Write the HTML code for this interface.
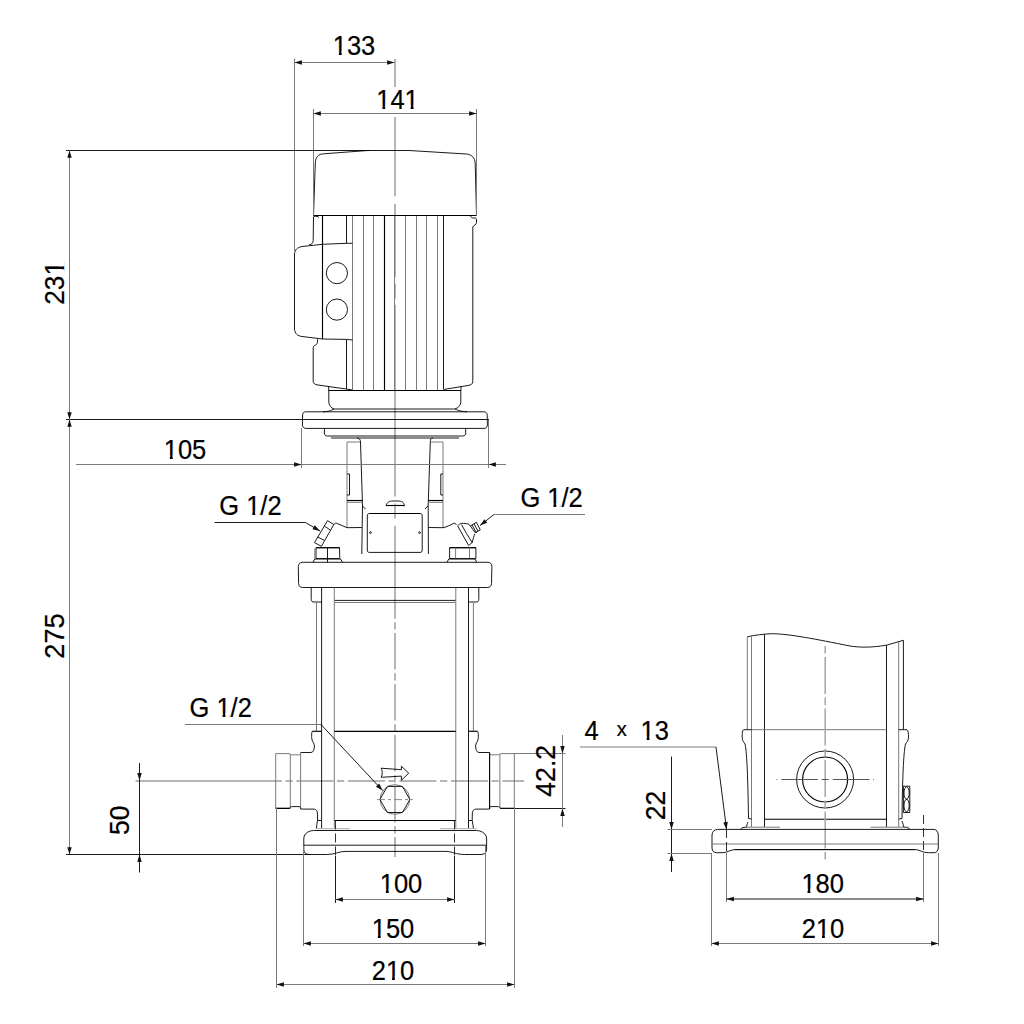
<!DOCTYPE html>
<html><head><meta charset="utf-8"><style>
html,body{margin:0;padding:0;background:#fff;width:1024px;height:1024px;overflow:hidden}
svg{position:absolute;left:0;top:0}
.g{stroke:#7a7a7a;stroke-width:1;fill:none}
.k{stroke:#000;stroke-width:0.9;fill:none}
.kk{stroke:#000;stroke-width:1.15;fill:none}
.lg{stroke:#aaa;stroke-width:1;fill:none}
.c{stroke:#999;stroke-width:1.2;fill:none;stroke-dasharray:37 3.7 7.3 3.7}
.c3{stroke:#333;stroke-width:1;fill:none;stroke-dasharray:9 4}
.c0{stroke:#b5b5b5;stroke-width:2;fill:none}
.cd{stroke:#b5b5b5;stroke-width:2;fill:none}
.cd1{stroke:#a5a5a5;stroke-width:1.5;fill:none}
.cd2{stroke:#555;stroke-width:1;fill:none}
.c2{stroke:#888;stroke-width:1;fill:none;stroke-dasharray:8 3 3 3}
.ar{fill:#111;stroke:none}
.t{font-family:"Liberation Sans",sans-serif;font-kerning:none;fill:#000;stroke:#000;stroke-width:0.2}
.er{fill:#fff;stroke:none}
</style></head><body>
<svg width="1024" height="1024" viewBox="0 0 1024 1024">
<line x1="395" y1="59" x2="395" y2="87" class="c0"/>
<line x1="395" y1="117" x2="395" y2="196.3" class="c0"/>
<line x1="395" y1="204" x2="395" y2="276.9" class="c0"/>
<line x1="395" y1="283.7" x2="395" y2="298.4" class="c0"/>
<line x1="395" y1="305" x2="395" y2="496.4" class="c0"/>
<line x1="395" y1="503.4" x2="395" y2="518.4" class="c0"/>
<line x1="395" y1="525.7" x2="395" y2="618.7" class="c0"/>
<line x1="395" y1="622.2" x2="395" y2="857" class="cd" style="stroke-dasharray:7.3 3.6 36.5 3.6"/>
<line x1="135.5" y1="781" x2="282" y2="781" class="c0"/>
<line x1="285.5" y1="781" x2="524" y2="781" class="cd" style="stroke-dasharray:7.3 3.6 37 3.6"/>
<path d="M313.5,215.5 L315.3,163 C315.6,156.5 318.5,154.3 323.5,153.8 L368,150.5 L409,150.5 L466.5,154 C471.5,154.5 474.8,157.5 475.2,163 L476.5,215.5" class="k"/>
<line x1="313.5" y1="215.5" x2="476.5" y2="215.5" class="kk"/>
<line x1="352.5" y1="216" x2="352.5" y2="390" class="g"/>
<line x1="363.5" y1="216" x2="363.5" y2="390" class="g"/>
<line x1="373.5" y1="216" x2="373.5" y2="390" class="g"/>
<line x1="405.5" y1="216" x2="405.5" y2="390" class="g"/>
<line x1="416.5" y1="216" x2="416.5" y2="390" class="g"/>
<line x1="426.5" y1="216" x2="426.5" y2="390" class="g"/>
<line x1="437.5" y1="216" x2="437.5" y2="390" class="g"/>
<line x1="394.5" y1="216" x2="394.5" y2="390" class="g"/>
<line x1="322.5" y1="216" x2="322.5" y2="339" class="kk"/>
<line x1="384.5" y1="216" x2="384.5" y2="390" class="kk"/>
<line x1="443.5" y1="216" x2="443.5" y2="389" class="k"/>
<line x1="346.5" y1="216" x2="346.5" y2="243.5" class="k"/>
<line x1="346.5" y1="339.5" x2="346.5" y2="389" class="k"/>
<path d="M313.5,216.5 C316,216 318.5,216.5 319,217.5 M313.5,217 L313.2,240.5 C313,243 312,244.5 309,245" class="k"/>
<path d="M352.5,243.3 L346.5,243.3 L322.5,244.3 L302,246.5 C297,247.5 294.8,250 294.5,254 L294.5,329 C294.8,333.5 297.5,336 302,336.5 L322.5,339 L346.5,339.4 L352.5,340" class="k"/>
<circle cx="336.9" cy="273.1" r="10.6" class="k"/>
<circle cx="336.9" cy="309.6" r="10.6" class="k"/>
<path d="M317.5,339.2 L317.4,342.5 C317.2,344.5 315.5,345 314.5,345.5 C313.5,346 313.2,347 313.2,349 L313.2,381.5 C313.3,383.5 315,384.7 318,385 L346,389 L352.5,390" class="k"/>
<path d="M470.5,216 C471,217.5 472,218 473.5,218 L475.5,218 C476.3,218.3 476.5,219 476.5,220 L476.5,222.5 C476.4,223.5 476,224 475,225 L473.5,226 C473,226.5 472.8,227 472.8,228 L472.8,381.5 C472.7,384 471,385 468,385.5 L443.5,389.5" class="k"/>
<line x1="461" y1="386" x2="461" y2="390.5" class="k"/>
<line x1="328.7" y1="386" x2="328.7" y2="390.5" class="k"/>
<line x1="328.5" y1="390.5" x2="461" y2="390.5" class="kk"/>
<path d="M328.8,390.5 L328.8,402.5 C329.2,405.5 331,408 334,409 L455,409 C458,408 460.6,405.5 460.8,402.5 L460.8,390.5" class="k"/>
<path d="M334,409 C331,410.5 329,411.5 323,411.8 L305.5,411.8 C303.5,412 302.8,413 302.6,415 L302.4,425 C302.6,427 303.5,428.3 306,428.4 L484,428.4 C486.5,428.3 487.3,427 487.4,425 L487.2,415 C487,413 486.3,412 484,411.8 L467,411.8 C461,411.5 458.5,410.5 455,409" class="k"/>
<line x1="323" y1="411.8" x2="467" y2="411.8" class="k"/>
<path d="M324.5,428.5 L324.3,433 C324.3,435 325.5,436 327.5,436 L462.5,436 C464.5,436 465.8,435 465.8,433 L465.6,428.5" class="k"/>
<line x1="331" y1="438" x2="459" y2="438" class="k"/>
<path d="M357,438 C359.5,438.2 360.4,439.5 360.5,442 L362.5,505 L361.8,554" class="k"/>
<path d="M433,438 C430.5,438.2 430.4,439.5 430.3,442 L428.2,505 L428.4,554" class="k"/>
<path d="M360,442 L347,442 L347,527.7 M430.5,442 L443,442 L443,527.7" class="g"/>
<path d="M347,474 L349.5,474 L349.5,495 L347,495 M443,474 L440.8,474 L440.8,495 L443,495" class="k"/>
<line x1="347" y1="500.5" x2="362.5" y2="500.5" class="kk"/>
<line x1="347" y1="502.3" x2="362.5" y2="502.3" class="g"/>
<line x1="428" y1="500.5" x2="443" y2="500.5" class="kk"/>
<line x1="428" y1="502.3" x2="443" y2="502.3" class="g"/>
<path d="M362.5,506 L365.5,509 M428,506 L425,509" class="k"/>
<path d="M386,505.5 C387.5,502 389,501 393,501 L398,501 C402,501 403.5,502 404.5,505.5 Z" class="k"/>
<line x1="386" y1="505.5" x2="404.5" y2="505.5" class="kk"/>
<path d="M369.5,513.5 L420,513.5 C421.5,513.5 422.2,514.3 422.2,516 L422.2,550 C422.2,551.8 421.5,552.4 420,552.4 L369.5,552.4 C368,552.4 367.3,551.8 367.3,550 L367.3,516 C367.3,514.3 368,513.5 369.5,513.5 Z" class="k"/>
<line x1="369.5" y1="513.5" x2="420" y2="513.5" class="kk"/>
<circle cx="370.5" cy="532.6" r="0.9" class="k"/><circle cx="419.5" cy="532.6" r="0.9" class="k"/>
<path d="M334,524.5 C334.5,523.5 335.5,523 336.5,523.2 L347,527.7 L361.8,527.5" class="k"/>
<path d="M428.3,527.5 L443,527.7 C447,527 450,525 453.9,523.3 C455,523 455.8,523.8 456.5,525" class="k"/>
<path d="M327.5,520.7 L333.8,524.5 L321.4,546.3 L314.5,542.6 Z M324.3,526 L330.4,530.1 M317.7,537 L324.3,540.4" class="k"/>
<path d="M457.6,525.8 L468.6,545.5 L472.2,542.6 C473,539 474,536 474.9,533.8 M457.6,525.8 C459,524.5 460,523.5 461.5,523.4 C464,523.3 467,523.5 468.8,524.3 L470.3,526 M461.5,524.5 L466.4,533.3 L472.2,542.6" class="k"/>
<path d="M470.3,526 L476.4,522.3 L480.3,529.9 L475.2,532.6 Z M472,525 L476.5,533 M474,524 L478,531" class="k"/>
<path d="M316,558.6 L316,547.7 L339.5,547.7 L339.8,558.6 Z M327.5,547.7 L327.5,558.6" class="k"/>
<line x1="316" y1="547.7" x2="339.5" y2="547.7" class="kk"/>
<line x1="314.8" y1="548.5" x2="314.8" y2="558.6" class="g"/>
<path d="M313,562.2 L314.8,559 L340.5,559 L342.6,562.2 M327.5,558.6 L327.5,562.2" class="k"/>
<path d="M449.6,547.7 L475.9,547.7 L475.9,558.6 L449.6,558.6 Z" class="k"/>
<line x1="449.6" y1="547.7" x2="475.9" y2="547.7" class="kk"/>
<path d="M455.6,547.7 L455.6,558.6 M469.5,547.7 L469.5,558.6" class="g"/>
<path d="M447,562.2 L448.8,559 L475,559 L476.7,562.2" class="k"/>
<path d="M302.5,562.3 L488,562.3 C490.5,562.5 491.8,564 491.9,566.5 L491.5,583.5 C491.3,586 490,587.4 487.5,587.5 L302.5,587.5 C300,587.4 298.8,586 298.6,583.5 L298.3,566.5 C298.4,564 299.8,562.5 302.5,562.3 Z" class="k"/>
<path d="M311.2,587.5 L311.2,599.5 C311.3,601.5 312.3,602 314,602 L322,602 M478.8,587.5 L478.8,599.5 C478.7,601.5 477.7,602 476,602 L468.7,602" class="k"/>
<line x1="334.3" y1="600.4" x2="455.8" y2="600.4" class="k"/>
<line x1="334.3" y1="602.5" x2="455.8" y2="602.5" class="g"/>
<line x1="316.5" y1="602" x2="316.5" y2="731" class="g"/>
<line x1="321.6" y1="587.5" x2="321.6" y2="828.5" class="k"/>
<line x1="334.3" y1="587.5" x2="334.3" y2="828.5" class="g"/>
<line x1="455.8" y1="587.5" x2="455.8" y2="828.5" class="g"/>
<line x1="468.5" y1="587.5" x2="468.5" y2="828.5" class="k"/>
<line x1="473.4" y1="602" x2="473.4" y2="731" class="g"/>
<line x1="334.3" y1="731.3" x2="455.8" y2="731.3" class="kk"/>
<line x1="312.2" y1="731.3" x2="321.9" y2="731.3" class="kk"/>
<line x1="468.6" y1="731.3" x2="477.5" y2="731.3" class="kk"/>
<path d="M312.2,731.3 C311.5,733 311.5,736 311.8,738.8 C312.2,742 314.5,743 314.4,746 C314.3,749.5 313.5,752.3 311,752.5 L300.6,752.5" class="k"/>
<path d="M477.6,731.3 C478.5,733 478.5,736 478.2,738.8 C477.8,742 475.5,743 475.6,746 C475.7,749.5 476.5,752.3 479,752.5 L489.6,752.5" class="k"/>
<path d="M275.7,753.6 L289,753.6 C290,753.6 290.4,754.6 291.5,754.8 L299.5,754.8 C300.3,754.6 300.5,753 300.6,752.5" class="g"/>
<line x1="275.7" y1="753.6" x2="275.7" y2="808.5" class="g"/>
<line x1="290.3" y1="754" x2="290.3" y2="808" class="g"/>
<line x1="300.6" y1="752.5" x2="300.6" y2="809" class="g"/>
<path d="M275.7,808.3 L289,808.3 C290,808.3 290.5,807 291.5,806.6 L299.5,806.6 C300.3,806.8 300.6,808 300.8,809" class="k"/>
<line x1="275.7" y1="808.4" x2="290.3" y2="808.4" class="kk"/>
<path d="M514.3,753.6 L501,753.6 C500,753.6 499.6,754.6 498.5,754.8 L490.5,754.8 C489.7,754.6 489.5,753 489.4,752.5" class="g"/>
<line x1="514.3" y1="753.6" x2="514.3" y2="808.5" class="g"/>
<line x1="499.9" y1="754" x2="499.9" y2="808" class="g"/>
<line x1="489.6" y1="752.5" x2="489.6" y2="809" class="kk"/>
<path d="M514.3,808.3 L501,808.3 C500,808.3 499.5,807 498.5,806.6 L490.5,806.6 C489.7,806.8 489.4,808 489.3,809" class="k"/>
<line x1="499.9" y1="808.4" x2="514.3" y2="808.4" class="k"/>
<path d="M300.6,809.1 L314.3,809.1 C316.3,809.5 317.2,810.8 317.4,813 L317.6,820.5 L321.9,820.5 M317.6,820.5 C317,823 316.5,826 316.4,828.5" class="k"/>
<path d="M489.5,809.1 L475.7,809.1 C473.7,809.5 472.4,810.8 472.3,813 L472.2,820.5 L468.6,820.5 M472.2,820.5 C472.8,823 473.2,826 473.4,828.5" class="k"/>
<line x1="334.3" y1="820.5" x2="455.8" y2="820.5" class="kk"/>
<line x1="316" y1="828.7" x2="349.8" y2="828.7" class="lg"/>
<line x1="440" y1="828.7" x2="476.6" y2="828.7" class="lg"/>
<path d="M313.5,830.5 L476.6,830.5 C481,830.8 484.5,832.5 486.2,836 C486.8,838 486.6,840 486.6,842 L486.6,850 C486.2,853 484,854.4 481,854.5 L464.6,854.5 C456,854.5 452,851.4 445.9,851.4 L346,851.4 C338,851.4 335,854.5 327.2,854.5 L309.6,854.5 C306,854.4 304,853 303.8,850 L303.8,842 C303.8,840 303.6,838 304.2,836 C305.8,832.5 309,830.8 313.5,830.5 Z" class="k"/>
<line x1="303.8" y1="845.2" x2="486.6" y2="845.2" class="k"/>
<circle cx="394.9" cy="799.5" r="14.8" class="g"/>
<path d="M387.4,786.4 L402.4,786.4 L409.9,799.5 L402.4,812.5 L387.4,812.5 L379.9,799.5 Z" class="k"/>
<line x1="377" y1="799.6" x2="413" y2="799.6" class="c2"/>
<path d="M381.2,768.2 L401.4,769.7 L401.4,766.2 L408.7,773.2 L401.4,780.2 L401.4,776.1 L381.2,777.3 C382.6,774.5 382.6,771 381.2,768.2 Z" class="k"/>
<path d="M747.3,636.8 C755,635 764,634 772.5,633.7 C790,634 815,639 850,646 C860,647.5 870,647.8 886.5,645.2 L903.4,640.3" class="k"/>
<line x1="747.3" y1="636.8" x2="747.3" y2="729.7" class="g"/>
<line x1="751.5" y1="636" x2="751.5" y2="827" class="g"/>
<line x1="764.5" y1="634.3" x2="764.5" y2="827" class="k"/>
<line x1="886.5" y1="645.2" x2="886.5" y2="827" class="k"/>
<line x1="898.7" y1="642" x2="898.7" y2="827" class="g"/>
<line x1="903.4" y1="640.3" x2="903.4" y2="729.7" class="k"/>
<line x1="751.5" y1="729.7" x2="886.5" y2="729.7" class="g"/>
<line x1="764.5" y1="819.2" x2="886.5" y2="819.2" class="kk"/>
<path d="M751.5,729.7 L743.5,729.7 C742.3,730.5 742.2,733 742.2,737 C742.2,741 744,742.5 745,744 C746.5,750 747.8,770 748.5,818.5 L751.5,819 M748,822 C747,824 746.6,826 746.6,827.2 L743,827.5 C741.5,828 741,829 740.5,829.5" class="k"/>
<path d="M898.7,729.7 L907,729.7 C908.2,730.5 908.5,733 908.5,737 C908.5,741 906.5,742.5 905.5,744 C904,750 902.5,770 902,818.5 L898.7,819 M902,821 C903,823.5 903.6,826 903.7,827.2 L907,827.5 C908.5,828 909.5,829 910,829.5" class="k"/>
<line x1="745" y1="827.2" x2="780" y2="827.2" class="g"/>
<line x1="870.5" y1="827.2" x2="908.6" y2="827.2" class="g"/>
<circle cx="825.1" cy="779.5" r="28.5" class="k"/>
<circle cx="825.1" cy="779.5" r="22.5" class="kk"/>
<line x1="645.9" y1="0" x2="862.7" y2="0" transform="translate(825.2,0) rotate(90)" class="cd1" style="stroke-dasharray:7.5 3.5 37 3.5"/>
<line x1="776.5" y1="779.5" x2="874" y2="779.5" class="cd2" style="stroke-dasharray:0.8 4 36.5 3.8 7 4.2 36.6 3.7 0.8"/>
<path d="M903.4,786.2 L909.8,786.2 L909.8,812.5 L903.4,812.5 Z" class="k"/>
<ellipse cx="906.6" cy="793" rx="2.6" ry="6.2" class="k"/><ellipse cx="906.6" cy="805.5" rx="2.6" ry="6.2" class="k"/>
<path d="M717.6,829.4 L934,829.4 C936.5,829.8 938,831.5 938.3,835 L938.3,848 C938,851 936.5,852.6 934,852.7 L928.3,852.7 C922,852.7 920,849.6 915.3,849.6 L735,849.6 C730,849.6 728,852.7 722,852.7 L716.5,852.7 C713.5,852.6 712.2,851 712,848 L712,835 C712.3,831.5 714,829.8 717.6,829.4 Z" class="k"/>
<line x1="735" y1="849.6" x2="915" y2="849.6" class="k"/>
<line x1="712" y1="844" x2="938.3" y2="844" class="g"/>
<line x1="294.5" y1="58.5" x2="294.5" y2="251" class="g"/>
<line x1="294.5" y1="62.5" x2="394.5" y2="62.5" class="g"/>
<path d="M294.50,62.50 L301.90,60.25 L301.90,64.75Z" class="ar"/>
<path d="M394.50,62.50 L387.10,64.75 L387.10,60.25Z" class="ar"/>
<g transform="translate(332.73,55) scale(1,1.05)"><text x="0" y="0" class="t" style="font-size:25.5px">133</text></g><g transform="translate(332.73,55)"><g class="er"><rect x="0.75" y="-3.70" width="5.39" height="4.90"/><rect x="8.95" y="-3.70" width="4.87" height="4.90"/></g></g>
<line x1="313.5" y1="109" x2="313.5" y2="215.5" class="g"/>
<line x1="476.5" y1="109" x2="476.5" y2="215.5" class="g"/>
<line x1="313.5" y1="113.5" x2="476.5" y2="113.5" class="g"/>
<path d="M313.50,113.50 L320.90,111.25 L320.90,115.75Z" class="ar"/>
<path d="M476.50,113.50 L469.10,115.75 L469.10,111.25Z" class="ar"/>
<g transform="translate(376.23,109) scale(1,1.05)"><text x="0" y="0" class="t" style="font-size:25.5px">141</text></g><g transform="translate(376.23,109)"><g class="er"><rect x="0.75" y="-3.70" width="5.39" height="4.90"/><rect x="8.95" y="-3.70" width="4.87" height="4.90"/><rect x="29.11" y="-3.70" width="5.39" height="4.90"/><rect x="37.31" y="-3.70" width="4.87" height="4.90"/></g></g>
<line x1="66" y1="150.5" x2="370" y2="150.5" class="k"/>
<line x1="66" y1="419.5" x2="489" y2="419.5" class="k"/>
<line x1="69.5" y1="150.5" x2="69.5" y2="854.5" class="g"/>
<path d="M69.50,150.50 L71.70,157.80 L67.30,157.80Z" class="ar"/>
<path d="M69.50,419.50 L67.30,412.20 L71.70,412.20Z" class="ar"/>
<path d="M69.50,419.50 L71.70,426.80 L67.30,426.80Z" class="ar"/>
<path d="M69.50,854.50 L67.30,847.20 L71.70,847.20Z" class="ar"/>
<g transform="translate(63.5,282.9) rotate(-90) translate(-21.94,0) scale(1,1.05)"><text x="0" y="0" class="t" style="font-size:26.3px">231</text></g><g transform="translate(63.5,282.9) rotate(-90) translate(-21.94,0)"><g class="er"><rect x="30.02" y="-3.76" width="5.56" height="4.96"/><rect x="38.47" y="-3.76" width="5.04" height="4.96"/></g></g>
<g transform="translate(63.5,636) rotate(-90) translate(-22.69,0) scale(1,1.05)"><text x="0" y="0" class="t" style="font-size:27.2px">275</text></g>
<line x1="66" y1="854.5" x2="311" y2="854.5" class="k"/>
<line x1="76" y1="464.5" x2="506" y2="464.5" class="g"/>
<line x1="301.5" y1="428" x2="301.5" y2="468" class="g"/>
<line x1="488.5" y1="420" x2="488.5" y2="468" class="g"/>
<path d="M301.50,464.50 L294.10,466.75 L294.10,462.25Z" class="ar"/>
<path d="M488.50,464.50 L495.90,462.25 L495.90,466.75Z" class="ar"/>
<g transform="translate(163.73,458.5) scale(1,1.05)"><text x="0" y="0" class="t" style="font-size:25.5px">105</text></g><g transform="translate(163.73,458.5)"><g class="er"><rect x="0.75" y="-3.70" width="5.39" height="4.90"/><rect x="8.95" y="-3.70" width="4.87" height="4.90"/></g></g>
<g transform="translate(219.30,515.2) scale(1,1.05)"><text x="0" y="0" class="t" style="font-size:25.5px">G 1/2</text></g><g transform="translate(219.30,515.2)"><g class="er"><rect x="27.67" y="-3.70" width="5.39" height="4.90"/><rect x="35.87" y="-3.70" width="4.38" height="4.90"/></g></g>
<line x1="214.5" y1="522.5" x2="305.5" y2="522.5" class="k"/>
<line x1="305.5" y1="522.5" x2="320" y2="531" class="k"/>
<path d="M320.00,531.00 L312.48,529.20 L314.75,525.32Z" class="ar"/>
<g transform="translate(520.40,507) scale(1,1.05)"><text x="0" y="0" class="t" style="font-size:25.5px">G 1/2</text></g><g transform="translate(520.40,507)"><g class="er"><rect x="27.67" y="-3.70" width="5.39" height="4.90"/><rect x="35.87" y="-3.70" width="4.38" height="4.90"/></g></g>
<line x1="494" y1="514.5" x2="585" y2="514.5" class="g"/>
<line x1="494" y1="514.5" x2="480" y2="525.5" class="k"/>
<path d="M480.00,525.50 L484.43,519.16 L487.21,522.70Z" class="ar"/>
<g transform="translate(189.50,716.8) scale(1,1.05)"><text x="0" y="0" class="t" style="font-size:25.5px">G 1/2</text></g><g transform="translate(189.50,716.8)"><g class="er"><rect x="27.67" y="-3.70" width="5.39" height="4.90"/><rect x="35.87" y="-3.70" width="4.38" height="4.90"/></g></g>
<line x1="185" y1="724.5" x2="321" y2="724.5" class="g"/>
<line x1="321" y1="724.5" x2="382.6" y2="790.5" class="k"/>
<path d="M382.60,790.50 L375.91,786.63 L379.20,783.55Z" class="ar"/>
<line x1="139.5" y1="763" x2="139.5" y2="872.5" class="k"/>
<path d="M139.50,780.50 L137.25,773.10 L141.75,773.10Z" class="ar"/>
<path d="M139.50,854.50 L141.75,861.90 L137.25,861.90Z" class="ar"/>
<g transform="translate(128.7,820.2) rotate(-90) translate(-14.74,0) scale(1,1.05)"><text x="0" y="0" class="t" style="font-size:26.5px">50</text></g>
<line x1="514" y1="753.5" x2="565.5" y2="753.5" class="g"/>
<line x1="514" y1="808.5" x2="565.5" y2="808.5" class="k"/>
<line x1="562.5" y1="735" x2="562.5" y2="827" class="g"/>
<path d="M562.50,753.50 L560.25,746.10 L564.75,746.10Z" class="ar"/>
<path d="M562.50,808.50 L564.75,815.90 L560.25,815.90Z" class="ar"/>
<g transform="translate(555.3,770.8) rotate(-90) translate(-25.89,0) scale(1,1.05)"><text x="0" y="0" class="t" style="font-size:26.6px">42.2</text></g>
<line x1="335.5" y1="820.5" x2="335.5" y2="856" class="c3"/>
<line x1="454.5" y1="820.5" x2="454.5" y2="856" class="c3"/>
<line x1="335.5" y1="856" x2="335.5" y2="903" class="k"/>
<line x1="454.5" y1="856" x2="454.5" y2="903" class="k"/>
<line x1="335.5" y1="899.5" x2="454.5" y2="899.5" class="g"/>
<path d="M335.50,899.50 L342.90,897.25 L342.90,901.75Z" class="ar"/>
<path d="M454.50,899.50 L447.10,901.75 L447.10,897.25Z" class="ar"/>
<g transform="translate(379.73,893) scale(1,1.05)"><text x="0" y="0" class="t" style="font-size:25.5px">100</text></g><g transform="translate(379.73,893)"><g class="er"><rect x="0.75" y="-3.70" width="5.39" height="4.90"/><rect x="8.95" y="-3.70" width="4.87" height="4.90"/></g></g>
<line x1="303.5" y1="846" x2="303.5" y2="946" class="g"/>
<line x1="485.5" y1="846" x2="485.5" y2="946" class="g"/>
<line x1="303.5" y1="943.5" x2="485.5" y2="943.5" class="g"/>
<path d="M303.50,943.50 L310.90,941.25 L310.90,945.75Z" class="ar"/>
<path d="M485.50,943.50 L478.10,945.75 L478.10,941.25Z" class="ar"/>
<g transform="translate(371.73,938) scale(1,1.05)"><text x="0" y="0" class="t" style="font-size:25.5px">150</text></g><g transform="translate(371.73,938)"><g class="er"><rect x="0.75" y="-3.70" width="5.39" height="4.90"/><rect x="8.95" y="-3.70" width="4.87" height="4.90"/></g></g>
<line x1="276.5" y1="808" x2="276.5" y2="988" class="g"/>
<line x1="514.5" y1="808" x2="514.5" y2="988" class="g"/>
<line x1="276.5" y1="984.5" x2="514.5" y2="984.5" class="g"/>
<path d="M276.50,984.50 L283.90,982.25 L283.90,986.75Z" class="ar"/>
<path d="M514.50,984.50 L507.10,986.75 L507.10,982.25Z" class="ar"/>
<g transform="translate(371.73,980) scale(1,1.05)"><text x="0" y="0" class="t" style="font-size:25.5px">210</text></g><g transform="translate(371.73,980)"><g class="er"><rect x="14.93" y="-3.70" width="5.39" height="4.90"/><rect x="23.13" y="-3.70" width="4.87" height="4.90"/></g></g>
<g transform="translate(584.50,740) scale(1,1.05)"><text x="0" y="0" class="t" style="font-size:25.5px">4</text></g>
<g transform="translate(616.70,736.2) scale(1,1.05)"><text x="0" y="0" class="t" style="font-size:20px">x</text></g>
<g transform="translate(640.50,740) scale(1,1.05)"><text x="0" y="0" class="t" style="font-size:25.5px">13</text></g><g transform="translate(640.50,740)"><g class="er"><rect x="0.75" y="-3.70" width="5.39" height="4.90"/><rect x="8.95" y="-3.70" width="4.87" height="4.90"/></g></g>
<line x1="580" y1="747" x2="716" y2="747" class="g"/>
<line x1="716" y1="747" x2="726.5" y2="829" class="k"/>
<path d="M726.50,829.50 L723.33,822.45 L727.79,821.87Z" class="ar"/>
<line x1="671.5" y1="756.5" x2="671.5" y2="872" class="k"/>
<line x1="667.5" y1="829.5" x2="712" y2="829.5" class="g"/>
<line x1="667.5" y1="853.5" x2="712" y2="853.5" class="g"/>
<path d="M671.50,829.50 L669.25,822.10 L673.75,822.10Z" class="ar"/>
<path d="M671.50,853.50 L673.75,860.90 L669.25,860.90Z" class="ar"/>
<g transform="translate(664.7,805.5) rotate(-90) translate(-14.74,0) scale(1,1.05)"><text x="0" y="0" class="t" style="font-size:26.5px">22</text></g>
<line x1="726.5" y1="829" x2="726.5" y2="853" class="c3"/>
<line x1="923.5" y1="815" x2="923.5" y2="853" class="c3"/>
<line x1="726.5" y1="853" x2="726.5" y2="902" class="g"/>
<line x1="923.5" y1="853" x2="923.5" y2="902" class="g"/>
<line x1="726.5" y1="899" x2="923.5" y2="899" class="k"/>
<path d="M726.50,899.00 L733.90,896.75 L733.90,901.25Z" class="ar"/>
<path d="M923.50,899.00 L916.10,901.25 L916.10,896.75Z" class="ar"/>
<g transform="translate(801.43,892.5) scale(1,1.05)"><text x="0" y="0" class="t" style="font-size:25.5px">180</text></g><g transform="translate(801.43,892.5)"><g class="er"><rect x="0.75" y="-3.70" width="5.39" height="4.90"/><rect x="8.95" y="-3.70" width="4.87" height="4.90"/></g></g>
<line x1="711.5" y1="853" x2="711.5" y2="946" class="g"/>
<line x1="938.5" y1="853" x2="938.5" y2="946" class="g"/>
<line x1="711.5" y1="943.5" x2="938.5" y2="943.5" class="g"/>
<path d="M711.50,943.50 L718.90,941.25 L718.90,945.75Z" class="ar"/>
<path d="M938.50,943.50 L931.10,945.75 L931.10,941.25Z" class="ar"/>
<g transform="translate(801.73,937.5) scale(1,1.05)"><text x="0" y="0" class="t" style="font-size:25.5px">210</text></g><g transform="translate(801.73,937.5)"><g class="er"><rect x="14.93" y="-3.70" width="5.39" height="4.90"/><rect x="23.13" y="-3.70" width="4.87" height="4.90"/></g></g>
</svg></body></html>
